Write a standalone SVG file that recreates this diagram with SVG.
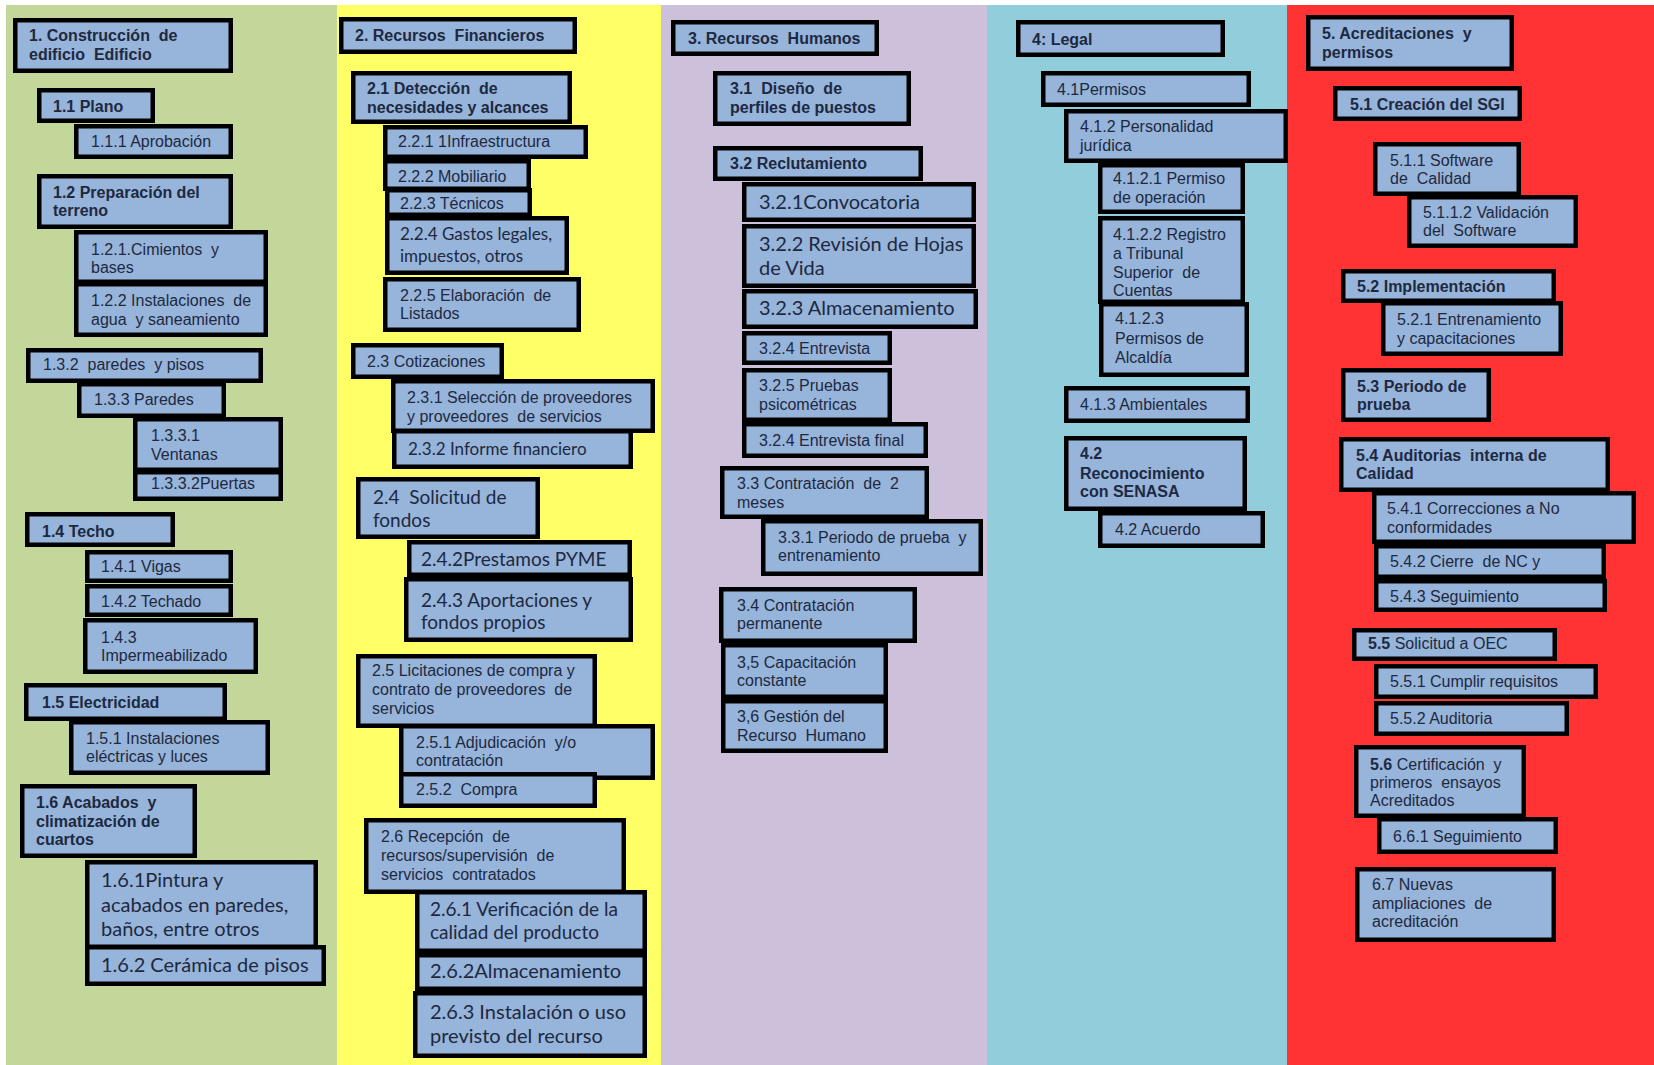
<svg xmlns="http://www.w3.org/2000/svg" width="1654" height="1065" viewBox="0 0 1654 1065" xml:space="preserve">
<style>
.box{fill:#97b4da;stroke:#000;stroke-width:4.5}
.t{font-family:"Liberation Sans",Arial,sans-serif;font-size:16px;fill:#1d2940;white-space:pre}
.b{font-weight:bold}
.c{font-family:Lato,"Liberation Sans",sans-serif;font-size:20px}
.c17{font-size:17px}
.c19{font-size:19px}
</style>
<!-- column bands -->
<g id="bands">
<rect x="0" y="0" width="1654" height="1065" fill="#ffffff"/>
<rect x="6" y="5" width="331" height="1060" fill="#c4d79b"/>
<rect x="337" y="5" width="324" height="1060" fill="#ffff66"/>
<rect x="661" y="5" width="326" height="1060" fill="#ccc0da"/>
<rect x="987" y="5" width="300" height="1060" fill="#92cddc"/>
<rect x="1287" y="5" width="367" height="1060" fill="#ff3333"/>
</g>
<g id="connectors"/>
<!-- 1. Construcción -->
<g id="n1"><rect class="box" x="15.25" y="20.25" width="215.5" height="50.5"/><text class="t b" x="29" y="41">1. Construcción  de</text><text class="t b" x="29" y="60">edificio  Edificio</text></g>
<g id="n1-1"><rect class="box" x="39.25" y="90.25" width="113.5" height="30.5"/><text class="t b" x="53" y="112">1.1 Plano</text></g>
<g id="n1-1-1"><rect class="box" x="76.25" y="126.25" width="154.5" height="30.5"/><text class="t" x="91" y="147">1.1.1 Aprobación</text></g>
<g id="n1-2"><rect class="box" x="39.25" y="176.25" width="191.5" height="50.5"/><text class="t b" x="53" y="198">1.2 Preparación del</text><text class="t b" x="53" y="216">terreno</text></g>
<g id="n1-2-1"><rect class="box" x="76.25" y="232.25" width="189.5" height="49.5"/><text class="t" x="91" y="255">1.2.1.Cimientos  y</text><text class="t" x="91" y="273">bases</text></g>
<g id="n1-2-2"><rect class="box" x="76.25" y="284.25" width="189.5" height="50.5"/><text class="t" x="91" y="306">1.2.2 Instalaciones  de</text><text class="t" x="91" y="325">agua  y saneamiento</text></g>
<g id="n1-3-2"><rect class="box" x="28.25" y="350.25" width="232.5" height="30.5"/><text class="t" x="43" y="370">1.3.2  paredes  y pisos</text></g>
<g id="n1-3-3"><rect class="box" x="79.25" y="384.25" width="144.5" height="31.5"/><text class="t" x="94" y="405">1.3.3 Paredes</text></g>
<g id="n1-3-3-1"><rect class="box" x="135.25" y="419.25" width="145.5" height="50.5"/><text class="t" x="151" y="441">1.3.3.1</text><text class="t" x="151" y="460">Ventanas</text></g>
<g id="n1-3-3-2"><rect class="box" x="135.25" y="472.25" width="145.5" height="26.5"/><text class="t" x="151" y="489">1.3.3.2Puertas</text></g>
<g id="n1-4"><rect class="box" x="27.25" y="514.25" width="145.5" height="30.5"/><text class="t b" x="42" y="537">1.4 Techo</text></g>
<g id="n1-4-1"><rect class="box" x="87.25" y="552.25" width="143.5" height="28.5"/><text class="t" x="101" y="572">1.4.1 Vigas</text></g>
<g id="n1-4-2"><rect class="box" x="87.25" y="586.25" width="143.5" height="28.5"/><text class="t" x="101" y="607">1.4.2 Techado</text></g>
<g id="n1-4-3"><rect class="box" x="85.25" y="620.25" width="170.5" height="51.5"/><text class="t" x="101" y="643">1.4.3</text><text class="t" x="101" y="661">Impermeabilizado</text></g>
<g id="n1-5"><rect class="box" x="26.25" y="685.25" width="198.5" height="33.5"/><text class="t b" x="42" y="708">1.5 Electricidad</text></g>
<g id="n1-5-1"><rect class="box" x="71.25" y="722.25" width="196.5" height="50.5"/><text class="t" x="86" y="744">1.5.1 Instalaciones</text><text class="t" x="86" y="762">eléctricas y luces</text></g>
<g id="n1-6"><rect class="box" x="22.25" y="786.25" width="172.5" height="69.5"/><text class="t b" x="36" y="808">1.6 Acabados  y</text><text class="t b" x="36" y="827">climatización de</text><text class="t b" x="36" y="845">cuartos</text></g>
<g id="n1-6-1"><rect class="box" x="87.25" y="862.25" width="228.5" height="84.5"/><text class="t c" x="101" y="887">1.6.1Pintura y</text><text class="t c" x="101" y="912">acabados en paredes,</text><text class="t c" x="101" y="936">baños, entre otros</text></g>
<g id="n1-6-2"><rect class="box" x="87.25" y="947.25" width="236.5" height="36.5"/><text class="t c" x="101" y="972">1.6.2 Cerámica de pisos</text></g>
<!-- 2. Recursos Financieros -->
<g id="n2"><rect class="box" x="341.25" y="19.25" width="233.5" height="32.5"/><text class="t b" x="355" y="41">2. Recursos  Financieros</text></g>
<g id="n2-1"><rect class="box" x="353.25" y="73.25" width="216.5" height="48.5"/><text class="t b" x="367" y="94">2.1 Detección  de</text><text class="t b" x="367" y="113">necesidades y alcances</text></g>
<g id="n2-2-1"><rect class="box" x="385.25" y="127.25" width="200.5" height="29.5"/><text class="t" x="398" y="147">2.2.1 1Infraestructura</text></g>
<g id="n2-2-2"><rect class="box" x="385.25" y="161.25" width="143.5" height="27.5"/><text class="t" x="398" y="182">2.2.2 Mobiliario</text></g>
<g id="n2-2-3"><rect class="box" x="387.25" y="190.25" width="142.5" height="24.5"/><text class="t" x="400" y="209">2.2.3 Técnicos</text></g>
<g id="n2-2-4"><rect class="box" x="387.25" y="218.25" width="179.5" height="54.5"/><text class="t c c17" x="400" y="240">2.2.4 Gastos legales,</text><text class="t c c17" x="400" y="262">impuestos, otros</text></g>
<g id="n2-2-5"><rect class="box" x="385.25" y="279.25" width="193.5" height="50.5"/><text class="t" x="400" y="301">2.2.5 Elaboración  de</text><text class="t" x="400" y="319">Listados</text></g>
<g id="n2-3"><rect class="box" x="353.25" y="345.25" width="148.5" height="31.5"/><text class="t" x="367" y="367">2.3 Cotizaciones</text></g>
<g id="n2-3-1"><rect class="box" x="393.25" y="381.25" width="259.5" height="49.5"/><text class="t" x="407" y="403">2.3.1 Selección de proveedores</text><text class="t" x="407" y="422">y proveedores  de servicios</text></g>
<g id="n2-3-2"><rect class="box" x="394.25" y="431.25" width="236.5" height="35.5"/><text class="t c c17" x="408" y="455">2.3.2 Informe financiero</text></g>
<g id="n2-4"><rect class="box" x="358.25" y="479.25" width="179.5" height="57.5"/><text class="t c c19" x="373" y="504">2.4  Solicitud de</text><text class="t c c19" x="373" y="527">fondos</text></g>
<g id="n2-4-2"><rect class="box" x="409.25" y="542.25" width="220.5" height="32.5"/><text class="t c c19" x="421" y="566">2.4.2Prestamos PYME</text></g>
<g id="n2-4-3"><rect class="box" x="406.25" y="579.25" width="224.5" height="60.5"/><text class="t c c19" x="421" y="607">2.4.3 Aportaciones y</text><text class="t c c19" x="421" y="629">fondos propios</text></g>
<g id="n2-5"><rect class="box" x="358.25" y="656.25" width="236.5" height="69.5"/><text class="t" x="372" y="676">2.5 Licitaciones de compra y</text><text class="t" x="372" y="695">contrato de proveedores  de</text><text class="t" x="372" y="714">servicios</text></g>
<g id="n2-5-1"><rect class="box" x="401.25" y="726.25" width="251.5" height="51.5"/><text class="t" x="416" y="748">2.5.1 Adjudicación  y/o</text><text class="t" x="416" y="766">contratación</text></g>
<g id="n2-5-2"><rect class="box" x="401.25" y="774.25" width="193.5" height="31.5"/><text class="t" x="416" y="795">2.5.2  Compra</text></g>
<g id="n2-6"><rect class="box" x="366.25" y="820.25" width="257.5" height="71.5"/><text class="t" x="381" y="842">2.6 Recepción  de</text><text class="t" x="381" y="861">recursos/supervisión  de</text><text class="t" x="381" y="880">servicios  contratados</text></g>
<g id="n2-6-1"><rect class="box" x="417.25" y="892.25" width="227.5" height="58.5"/><text class="t c c19" x="430" y="916">2.6.1 Verificación de la</text><text class="t c c19" x="430" y="939">calidad del producto</text></g>
<g id="n2-6-2"><rect class="box" x="417.25" y="955.25" width="227.5" height="33.5"/><text class="t c" x="430" y="978">2.6.2Almacenamiento</text></g>
<g id="n2-6-3"><rect class="box" x="415.25" y="993.25" width="229.5" height="62.5"/><text class="t c" x="430" y="1019">2.6.3 Instalación o uso</text><text class="t c" x="430" y="1043">previsto del recurso</text></g>
<!-- 3. Recursos Humanos -->
<g id="n3"><rect class="box" x="673.25" y="22.25" width="203.5" height="31.5"/><text class="t b" x="688" y="44">3. Recursos  Humanos</text></g>
<g id="n3-1"><rect class="box" x="715.25" y="73.25" width="193.5" height="50.5"/><text class="t b" x="730" y="94">3.1  Diseño  de</text><text class="t b" x="730" y="113">perfiles de puestos</text></g>
<g id="n3-2"><rect class="box" x="715.25" y="148.25" width="205.5" height="30.5"/><text class="t b" x="730" y="169">3.2 Reclutamiento</text></g>
<g id="n3-2-1"><rect class="box" x="744.25" y="184.25" width="229.5" height="35.5"/><text class="t c" x="759" y="209">3.2.1Convocatoria</text></g>
<g id="n3-2-2"><rect class="box" x="744.25" y="226.25" width="229.5" height="59.5"/><text class="t c" x="759" y="251">3.2.2 Revisión de Hojas</text><text class="t c" x="759" y="275">de Vida</text></g>
<g id="n3-2-3"><rect class="box" x="744.25" y="291.25" width="231.5" height="35.5"/><text class="t c" x="759" y="315">3.2.3 Almacenamiento</text></g>
<g id="n3-2-4"><rect class="box" x="744.25" y="333.25" width="145.5" height="29.5"/><text class="t" x="759" y="354">3.2.4 Entrevista</text></g>
<g id="n3-2-5"><rect class="box" x="744.25" y="370.25" width="145.5" height="49.5"/><text class="t" x="759" y="391">3.2.5 Pruebas</text><text class="t" x="759" y="410">psicométricas</text></g>
<g id="n3-2-4-final"><rect class="box" x="744.25" y="424.25" width="181.5" height="31.5"/><text class="t" x="759" y="446">3.2.4 Entrevista final</text></g>
<g id="n3-3"><rect class="box" x="722.25" y="468.25" width="204.5" height="48.5"/><text class="t" x="737" y="489">3.3 Contratación  de  2</text><text class="t" x="737" y="508">meses</text></g>
<g id="n3-3-1"><rect class="box" x="763.25" y="521.25" width="217.5" height="52.5"/><text class="t" x="778" y="543">3.3.1 Periodo de prueba  y</text><text class="t" x="778" y="561">entrenamiento</text></g>
<g id="n3-4"><rect class="box" x="721.25" y="589.25" width="193.5" height="51.5"/><text class="t" x="737" y="611">3.4 Contratación</text><text class="t" x="737" y="629">permanente</text></g>
<g id="n3-5"><rect class="box" x="723.25" y="645.25" width="162.5" height="51.5"/><text class="t" x="737" y="668">3,5 Capacitación</text><text class="t" x="737" y="686">constante</text></g>
<g id="n3-6"><rect class="box" x="723.25" y="701.25" width="162.5" height="49.5"/><text class="t" x="737" y="722">3,6 Gestión del</text><text class="t" x="737" y="741">Recurso  Humano</text></g>
<!-- 4. Legal -->
<g id="n4"><rect class="box" x="1018.25" y="22.25" width="204.5" height="32.5"/><text class="t b" x="1032" y="45">4: Legal</text></g>
<g id="n4-1"><rect class="box" x="1043.25" y="73.25" width="205.5" height="31.5"/><text class="t" x="1057" y="95">4.1Permisos</text></g>
<g id="n4-1-2"><rect class="box" x="1066.25" y="111.25" width="219.5" height="49.5"/><text class="t" x="1080" y="132">4.1.2 Personalidad</text><text class="t" x="1080" y="151">jurídica</text></g>
<g id="n4-1-2-1"><rect class="box" x="1100.25" y="165.25" width="142.5" height="46.5"/><text class="t" x="1113" y="184">4.1.2.1 Permiso</text><text class="t" x="1113" y="203">de operación</text></g>
<g id="n4-1-2-2"><rect class="box" x="1100.25" y="218.25" width="142.5" height="83.5"/><text class="t" x="1113" y="240">4.1.2.2 Registro</text><text class="t" x="1113" y="259">a Tribunal</text><text class="t" x="1113" y="278">Superior  de</text><text class="t" x="1113" y="296">Cuentas</text></g>
<g id="n4-1-2-3"><rect class="box" x="1101.25" y="304.25" width="145.5" height="70.5"/><text class="t" x="1115" y="324">4.1.2.3</text><text class="t" x="1115" y="344">Permisos de</text><text class="t" x="1115" y="363">Alcaldía</text></g>
<g id="n4-1-3"><rect class="box" x="1066.25" y="388.25" width="181.5" height="32.5"/><text class="t" x="1080" y="410">4.1.3 Ambientales</text></g>
<g id="n4-2"><rect class="box" x="1066.25" y="438.25" width="178.5" height="70.5"/><text class="t b" x="1080" y="459">4.2</text><text class="t b" x="1080" y="479">Reconocimiento</text><text class="t b" x="1080" y="497">con SENASA</text></g>
<g id="n4-2-acuerdo"><rect class="box" x="1100.25" y="513.25" width="162.5" height="32.5"/><text class="t" x="1115" y="535">4.2 Acuerdo</text></g>
<!-- 5. Acreditaciones y permisos -->
<g id="n5"><rect class="box" x="1308.25" y="17.25" width="203.5" height="51.5"/><text class="t b" x="1322" y="39">5. Acreditaciones  y</text><text class="t b" x="1322" y="58">permisos</text></g>
<g id="n5-1"><rect class="box" x="1335.25" y="88.25" width="184.5" height="30.5"/><text class="t b" x="1350" y="110">5.1 Creación del SGI</text></g>
<g id="n5-1-1"><rect class="box" x="1375.25" y="144.25" width="143.5" height="49.5"/><text class="t" x="1390" y="166">5.1.1 Software</text><text class="t" x="1390" y="184">de  Calidad</text></g>
<g id="n5-1-1-2"><rect class="box" x="1409.25" y="197.25" width="166.5" height="48.5"/><text class="t" x="1423" y="218">5.1.1.2 Validación</text><text class="t" x="1423" y="236">del  Software</text></g>
<g id="n5-2"><rect class="box" x="1343.25" y="271.25" width="210.5" height="29.5"/><text class="t b" x="1357" y="292">5.2 Implementación</text></g>
<g id="n5-2-1"><rect class="box" x="1383.25" y="303.25" width="177.5" height="50.5"/><text class="t" x="1397" y="325">5.2.1 Entrenamiento</text><text class="t" x="1397" y="344">y capacitaciones</text></g>
<g id="n5-3"><rect class="box" x="1343.25" y="370.25" width="145.5" height="49.5"/><text class="t b" x="1357" y="392">5.3 Periodo de</text><text class="t b" x="1357" y="410">prueba</text></g>
<g id="n5-4"><rect class="box" x="1341.25" y="439.25" width="266.5" height="50.5"/><text class="t b" x="1356" y="461">5.4 Auditorias  interna de</text><text class="t b" x="1356" y="479">Calidad</text></g>
<g id="n5-4-1"><rect class="box" x="1374.25" y="493.25" width="259.5" height="48.5"/><text class="t" x="1387" y="514">5.4.1 Correcciones a No</text><text class="t" x="1387" y="533">conformidades</text></g>
<g id="n5-4-2"><rect class="box" x="1376.25" y="546.25" width="227.5" height="30.5"/><text class="t" x="1390" y="567">5.4.2 Cierre  de NC y</text></g>
<g id="n5-4-3"><rect class="box" x="1376.25" y="581.25" width="228.5" height="28.5"/><text class="t" x="1390" y="602">5.4.3 Seguimiento</text></g>
<g id="n5-5"><rect class="box" x="1354.25" y="630.25" width="200.5" height="28.5"/><text class="t" x="1368" y="649"><tspan class="b">5.5</tspan> Solicitud a OEC</text></g>
<g id="n5-5-1"><rect class="box" x="1376.25" y="666.25" width="219.5" height="30.5"/><text class="t" x="1390" y="687">5.5.1 Cumplir requisitos</text></g>
<g id="n5-5-2"><rect class="box" x="1376.25" y="703.25" width="190.5" height="30.5"/><text class="t" x="1390" y="724">5.5.2 Auditoria</text></g>
<g id="n5-6"><rect class="box" x="1356.25" y="747.25" width="167.5" height="68.5"/><text class="t" x="1370" y="770"><tspan class="b">5.6</tspan> Certificación  y</text><text class="t" x="1370" y="788">primeros  ensayos</text><text class="t" x="1370" y="806">Acreditados</text></g>
<g id="n6-6-1"><rect class="box" x="1379.25" y="819.25" width="176.5" height="32.5"/><text class="t" x="1393" y="842">6.6.1 Seguimiento</text></g>
<g id="n6-7"><rect class="box" x="1357.25" y="869.25" width="196.5" height="70.5"/><text class="t" x="1372" y="890">6.7 Nuevas</text><text class="t" x="1372" y="909">ampliaciones  de</text><text class="t" x="1372" y="927">acreditación</text></g>
</svg>
